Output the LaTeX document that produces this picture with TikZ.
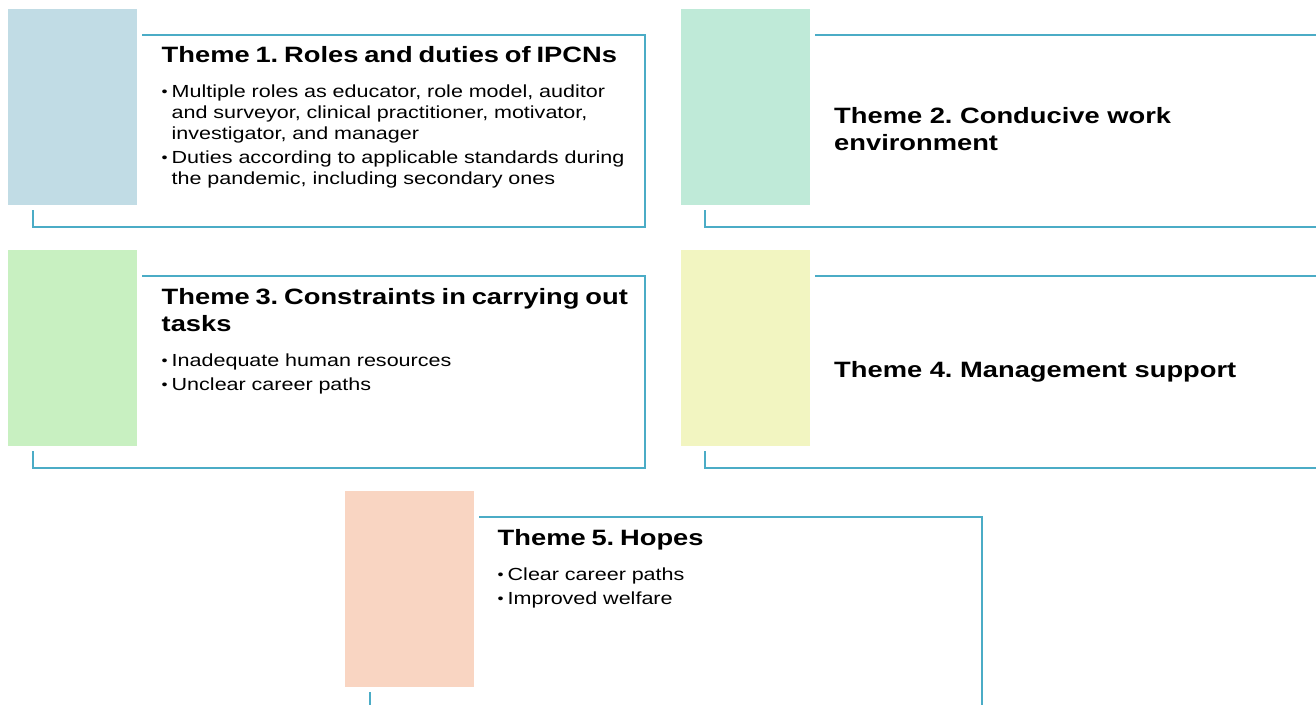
\documentclass[tikz,border=0pt]{standalone}
\usepackage{fontspec}
\setmainfont{Liberation Sans}[FakeStretch=1.23]
\usepackage{tikz}
\usetikzlibrary{positioning}
\frenchspacing
\definecolor{frameblue}{RGB}{75,172,198}
\definecolor{tabblue}{RGB}{193,220,229}
\definecolor{tabmint}{RGB}{191,234,216}
\definecolor{tabgreen}{RGB}{200,240,193}
\definecolor{tabyellow}{RGB}{242,245,193}
\definecolor{tabpeach}{RGB}{249,213,194}
\newcommand{\headfont}{\fontsize{22.2}{27}\selectfont\bfseries}
\newcommand{\bodyfont}{\fontsize{17.5}{21}\selectfont}
\newcommand{\theme}[1]{{\headfont #1\par}\vspace{14pt}}
\newcommand{\point}[1]{\hangindent=10pt\hangafter=1\makebox[10pt][l]{\raisebox{1pt}{\scalebox{0.8}{\textbullet}}}#1\par\vspace{3pt}}
\tikzstyle{frame}=[draw=frameblue, line width=2pt, minimum width=612pt,
                minimum height=192pt, inner sep=0, anchor=north west]
\tikzstyle{tab}=[minimum width=129pt, minimum height=196pt, inner sep=0,
                preaction={draw=white, line width=10pt}, anchor=north west]
\tikzstyle{body}=[inner sep=0, text width=480pt, align=left, font=\bodyfont]
\tikzstyle{head}=[inner sep=0, align=left, font=\headfont]

\begin{document}
\begin{tikzpicture}[x=1pt, y=-1pt]
\useasboundingbox (0,0) rectangle (1316,704);
\clip (0,0) rectangle (1316,704);

% frames first, the tabs cut them with a white rim
\node[frame] (f1) at (31.5,33.5) {};
\node[frame] (f2) at (704,33.5) {};
\node[frame] (f3) at (31.5,274.5) {};
\node[frame] (f4) at (704,274.5) {};
\node[frame] (f5) at (368.5,515.5) {};

\node[tab, fill=tabblue] (t1) at (8,9) {};
\node[tab, fill=tabmint] (t2) at (681,9) {};
\node[tab, fill=tabgreen] (t3) at (8,250) {};
\node[tab, fill=tabyellow] (t4) at (681,250) {};
\node[tab, fill=tabpeach] (t5) at (345,491) {};

\node[body, below right=12.5pt and 130pt of f1.north west] (c1) {%
  \theme{Theme 1. Roles and duties of IPCNs}
  \point{Multiple roles as educator, role model, auditor\newline
    and surveyor, clinical practitioner, motivator,\newline
    investigator, and manager}
  \point{Duties according to applicable standards during\newline
    the pandemic, including secondary ones}};
\node[head, right=130pt of f2.west, yshift=1pt] (c2) {Theme 2. Conducive work\\environment};
\node[body, below right=13.5pt and 130pt of f3.north west] (c3) {%
  \theme{Theme 3. Constraints in carrying out\newline tasks}
  \point{Inadequate human resources}
  \point{Unclear career paths}};
\node[head, right=130pt of f4.west] (c4) {Theme 4. Management support};
\node[body, below right=13.5pt and 129pt of f5.north west] (c5) {%
  \theme{Theme 5. Hopes}
  \point{Clear career paths}
  \point{Improved welfare}};
\end{tikzpicture}
\end{document}
